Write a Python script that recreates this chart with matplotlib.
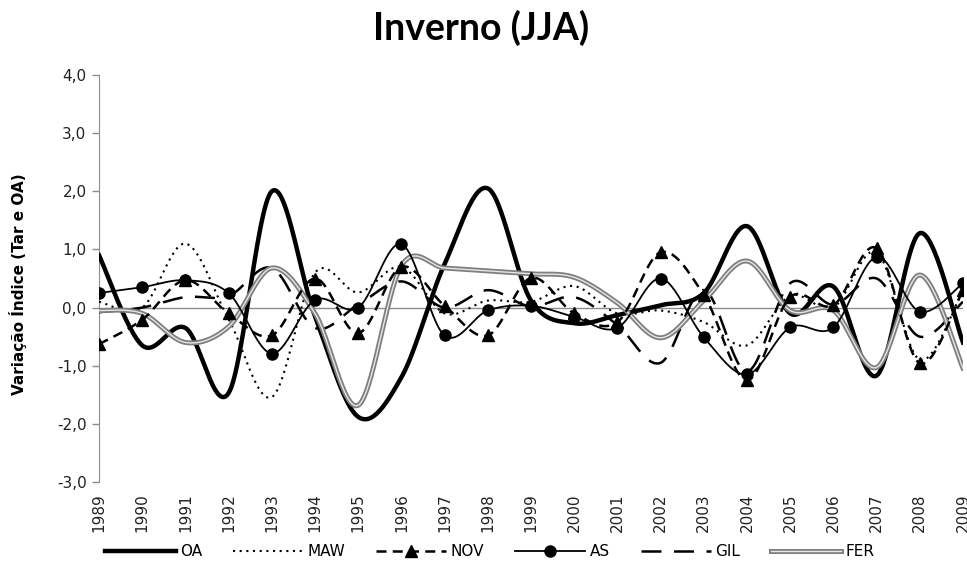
import numpy as np
import matplotlib
matplotlib.use("Agg")
from matplotlib import pyplot as plt
from matplotlib import patheffects as pe

years = list(range(1989, 2010))
year_labels = [str(a) for a in years]

# valores (índice Tar e OA)
OA = [0.9, -0.65, -0.35, -1.47, 2.0, -0.15, -1.88, -1.2, 0.75, 2.05, 0.12,
      -0.27, -0.13, 0.04, 0.25, 1.4, -0.1, 0.36, -1.17, 1.28, -0.6]
MAW = [0.1, 0.0, 1.1, -0.2, -1.54, 0.6, 0.26, 0.7, -0.1, 0.12, 0.1,
       0.37, -0.1, -0.05, -0.25, -0.65, 0.2, 0.0, 0.95, -0.9, 0.3]
NOV = [-0.63, -0.21, 0.47, -0.1, -0.48, 0.5, -0.44, 0.7, 0.03, -0.48, 0.51,
       -0.1, -0.25, 0.95, 0.22, -1.25, 0.18, 0.04, 1.02, -0.96, 0.3]
AS = [0.25, 0.35, 0.47, 0.25, -0.79, 0.13, 0.0, 1.09, -0.48, -0.05, 0.03,
      -0.16, -0.35, 0.5, -0.51, -1.15, -0.34, -0.34, 0.87, -0.07, 0.42]
GIL = [-0.08, 0.0, 0.18, 0.2, 0.68, -0.35, 0.05, 0.45, 0.0, 0.3, 0.02,
       0.18, -0.3, -0.95, 0.3, -1.1, 0.42, 0.05, 0.5, -0.5, 0.1]
FER = [-0.05, -0.1, -0.6, -0.33, 0.68, -0.1, -1.68, 0.72, 0.68, 0.63, 0.58,
       0.52, 0.08, -0.52, 0.12, 0.8, -0.05, -0.05, -1.03, 0.56, -1.04]

N_SEG = 30  # pontos por segmento da curva suavizada


def suaviza(x, y, n=N_SEG):
    """linha suavizada tipo Excel (Bezier / Catmull-Rom)"""
    x = np.asarray(x, float)
    y = np.asarray(y, float)
    px = np.concatenate([[x[0]], x, [x[-1]]])
    py = np.concatenate([[y[0]], y, [y[-1]]])
    xs, ys = [], []
    t = np.linspace(0, 1, n, endpoint=False)
    for i in range(len(x) - 1):
        p0 = np.array([px[i + 1], py[i + 1]])
        p3 = np.array([px[i + 2], py[i + 2]])
        c1 = p0 + (p3 - np.array([px[i], py[i]])) / 6.0
        c2 = p3 - (np.array([px[i + 3], py[i + 3]]) - p0) / 6.0
        b = ((1 - t) ** 3)[:, None] * p0 + (3 * (1 - t) ** 2 * t)[:, None] * c1 \
            + (3 * (1 - t) * t ** 2)[:, None] * c2 + (t ** 3)[:, None] * p3
        xs.append(b[:, 0])
        ys.append(b[:, 1])
    xs.append([x[-1]])
    ys.append([y[-1]])
    return np.concatenate(xs), np.concatenate(ys)


fig = plt.figure(figsize=(9.67, 5.64), dpi=100)
ax = fig.add_axes([99 / 967, 1 - 482 / 564, 864 / 967, 407 / 564])

ax.axhline(0, color='#8c8c8c', lw=1.0, zorder=1)

x, y = suaviza(years, OA)
ax.plot(x, y, color='black', lw=3.2, label='OA', zorder=3)

x, y = suaviza(years, MAW)
ax.plot(x, y, color='black', lw=1.5, linestyle=(0, (1, 2.2)), label='MAW', zorder=3)

x, y = suaviza(years, NOV)
ax.plot(x, y, color='black', lw=1.8, linestyle=(0, (4, 2.5)), marker='^', markersize=8,
        markevery=N_SEG, label='NOV', zorder=4)

x, y = suaviza(years, AS)
ax.plot(x, y, color='black', lw=1.3, marker='o', markersize=8,
        markevery=N_SEG, label='AS', zorder=4)

x, y = suaviza(years, GIL)
ax.plot(x, y, color='black', lw=1.8, linestyle=(0, (8, 5)), label='GIL', zorder=3)

x, y = suaviza(years, FER)
ax.plot(x, y, color='#e6e6e6', lw=1.0, label='FER', zorder=3,
        path_effects=[pe.Stroke(linewidth=3.6, foreground='#7f7f7f'), pe.Normal()])

ax.set_xlim(1989, 2009)
ax.set_ylim(-3, 4)
ax.set_yticks(np.arange(-3, 4.1, 1))
ax.set_yticklabels([f'{v:.1f}'.replace('.', ',') for v in np.arange(-3, 4.1, 1)],
                   fontsize=11, color='#222222')
ax.set_xticks(years)
ax.set_xticklabels(year_labels, rotation=90, fontsize=11, color='#222222')
ax.tick_params(axis='x', length=0, pad=8)
ax.tick_params(axis='y', length=5, width=1, color='#8c8c8c', pad=4)

for s in ['top', 'right', 'bottom']:
    ax.spines[s].set_visible(False)
ax.spines['left'].set_color('#8c8c8c')

fig.text(481 / 967, 1 - 28 / 564, 'Inverno (JJA)', ha='center', va='center',
         fontsize=27, fontweight='bold', family='Lato')
fig.text(18 / 967, 1 - 284 / 564, 'Variação Índice (Tar e OA)', rotation=90,
         ha='center', va='center', fontsize=11, fontweight='bold')

fig.legend(loc='center', bbox_to_anchor=(490 / 967, 1 - 552 / 564), ncol=6,
           frameon=False, fontsize=11, handlelength=4.6, handletextpad=0.3,
           columnspacing=2.0)

fig.savefig('out.png', dpi=100)
